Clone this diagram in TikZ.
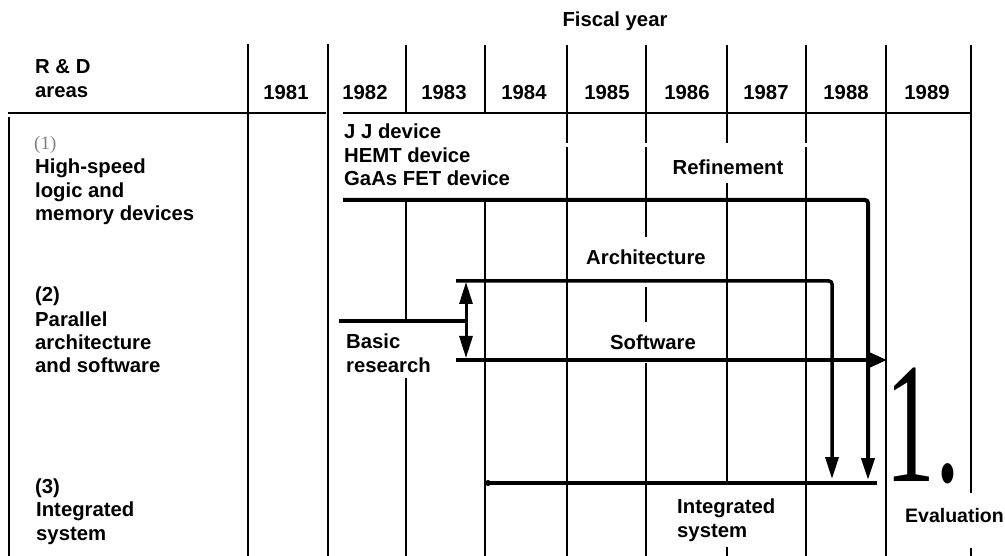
\documentclass[tikz,border=0pt]{standalone}
\usepackage{fontspec}
\setmainfont{Liberation Sans}
\newfontfamily\serifnum{Liberation Serif}
\usetikzlibrary{arrows.meta}

\tikzset{
  grid/.style={line width=1.5pt},
  heavy/.style={line width=4pt},
  lbl/.style={inner sep=0pt,align=left,font=\fontsize{20.3}{23.5}\selectfont\bfseries},
  bigtip/.style={-{Triangle[length=22pt,width=13pt]}},
  splittip/.tip={Triangle[length=22pt,width=13pt]},
}

\begin{document}
\begin{tikzpicture}[x=1pt,y=-1pt]
  \useasboundingbox (0,0) rectangle (1005,556);

  % grid of the table
  \draw[grid] (9,117) -- (9,556);
  \draw[grid] (248,44) -- (248,556);
  \draw[line width=2.5pt] (328,44) -- (328,320);
  \draw[grid] (328,320) -- (328,556);
  \draw[grid] (8,113) -- (326,113) (343,113) -- (971,113);
  \foreach \x in {406,485}
    \draw[grid] (\x,45) -- (\x,112);
  \foreach \x in {567,646,727,806}
    \draw[grid] (\x,45) -- (\x,143);
  \draw[grid] (406,200) -- (406,323) (406,378) -- (406,556);
  \draw[grid] (485,200) -- (485,556);
  \draw[grid] (567,147) -- (567,556);
  \draw[grid] (646,147) -- (646,237) (646,287) -- (646,322) (646,363) -- (646,556);
  \draw[grid] (727,183) -- (727,483) (727,547) -- (727,556);
  \draw[grid] (806,147) -- (806,556);
  \draw[grid] (886,45) -- (886,556);
  \draw[grid] (971,45) -- (971,493) (971,548) -- (971,556);

  % header
  \node[lbl,anchor=base] (fiscal) at (615,27) {Fiscal year};
  \node[lbl,anchor=base west] (rd) at (35,74) {R \& D};
  \node[lbl,anchor=base west] (areas) at (35,98) {areas};
  \foreach \yr/\x in {1981/286,1982/365,1983/444,1984/524,1985/607,
                      1986/687,1987/766,1988/846,1989/927}
    \node[lbl,anchor=base] (y\yr) at (\x,100) {\yr};

  % R & D areas (last line on the given baseline)
  \node[inner sep=0pt,anchor=base west,font=\serifnum\fontsize{19}{20}\selectfont,
    text=gray] (n1) at (34,150) {(1)};
  \node[lbl,anchor=base west] (area1) at (35,221)
    {High-speed\\logic and\\memory devices};
  \node[lbl,anchor=base west] (n2) at (35,302) {(2)};
  \node[lbl,anchor=base west] (area2) at (35,373)
    {Parallel\\architecture\\and software};
  \node[lbl,anchor=base west] (n3) at (35,493) {(3)};
  \node[lbl,anchor=base west] (area3) at (36,540) {Integrated\\system};

  % labels in the time chart
  \node[lbl,anchor=base west] (devices) at (344,186)
    {J J device\\HEMT device\\GaAs FET device};
  \node[lbl,anchor=base] (refine) at (728,175) {Refinement};
  \node[lbl,anchor=base] (arch) at (646,265) {Architecture};
  \node[lbl,anchor=base west] (basic) at (346,372) {Basic\\research};
  \node[lbl,anchor=base] (soft) at (653,350) {Software};
  \node[lbl,anchor=base west] (integ) at (677,537) {Integrated\\system};
  \node[lbl,anchor=base west,font=\fontsize{19.5}{23.5}\selectfont\bfseries]
    (eval) at (905,522) {Evaluation};
  \node[inner sep=0pt,anchor=base,font=\serifnum\fontsize{172}{172}\selectfont]
    (one) at (923,481) {\scalebox{0.58}[1]{1.}};

  % flows
  \coordinate (ref-a) at (343,200);
  \coordinate (ref-b) at (868,480);
  \coordinate (arc-a) at (456,281);
  \coordinate (arc-b) at (832,479);
  \coordinate (bas-a) at (339,321);
  \coordinate (bas-b) at (466,321);
  \coordinate (split-t) at (466,282);
  \coordinate (split-b) at (466,358);
  \coordinate (sw-a) at (456,360);
  \coordinate (sw-b) at (887,360);
  \coordinate (int-a) at (488,483);
  \coordinate (int-b) at (877,483);

  \draw[heavy,bigtip,rounded corners=3pt] (ref-a) -| (ref-b);
  \draw[line width=3.5pt,bigtip,rounded corners=3pt] (arc-a) -| (arc-b);
  \draw[heavy] (bas-a) -- (bas-b);
  \draw[line width=3pt,splittip-splittip] (split-t) -- (split-b);
  \draw[line width=3.5pt,-{Triangle[length=17pt,width=14pt]}] (sw-a) -- (sw-b);
  \draw[heavy] (int-a) -- (int-b);
  \fill (int-a) circle (3pt);
\end{tikzpicture}
\end{document}
